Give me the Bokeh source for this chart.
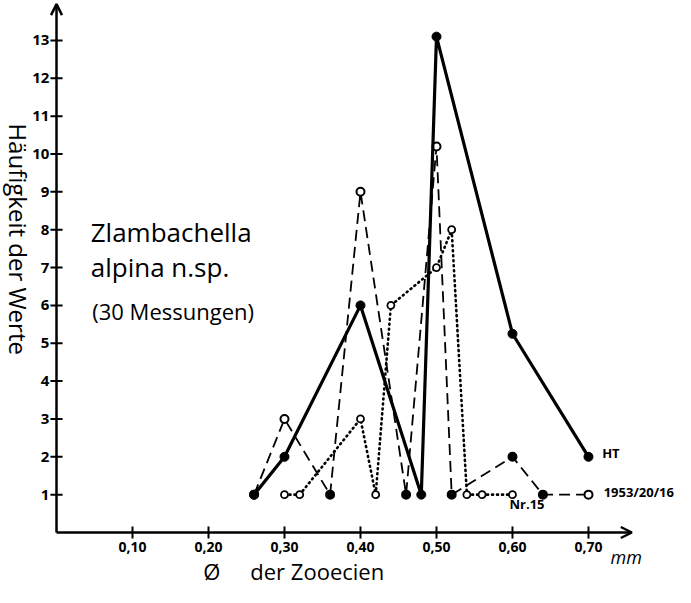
import math
from bokeh.plotting import figure
from bokeh.models import Range1d, Label, Arrow, OpenHead, ColumnDataSource
from bokeh.embed import file_html
from bokeh.resources import INLINE

# ---- data ----
ht_x = [0.26, 0.30, 0.40, 0.48, 0.50, 0.60, 0.70]
ht_y = [1, 2, 6, 1, 13.1, 5.25, 2]

s53_x = [0.26, 0.30, 0.36, 0.40, 0.46, 0.50, 0.52, 0.60, 0.64, 0.70]
s53_y = [1, 3, 1, 9, 1, 10.2, 1, 2, 1, 1]
s53_filled = [True, False, True, False, True, False, True, True, True, False]

nr15_x = [0.30, 0.32, 0.40, 0.42, 0.44, 0.50, 0.52, 0.54, 0.56, 0.60]
nr15_y = [1, 1, 3, 1, 6, 7, 8, 1, 1, 1]

x_ticks = [0.1, 0.2, 0.3, 0.4, 0.5, 0.6, 0.7]
x_tick_labels = ["0,10", "0,20", "0,30", "0,40", "0,50", "0,60", "0,70"]
y_ticks = list(range(1, 14))
y_tick_labels = [str(v) for v in y_ticks]

FONT = "Open Sans"

# frame covers the whole canvas; the chart's own axes are drawn at x=0 / y=0
p = figure(width=675, height=587, x_range=Range1d(-0.0737, 0.8145), y_range=Range1d(-1.453, 14.055),
           output_backend="svg", toolbar_location=None,
           min_border_left=0, min_border_right=0, min_border_top=0, min_border_bottom=0)
p.outline_line_color = None
p.xaxis.visible = False
p.yaxis.visible = False
p.xgrid.visible = False
p.ygrid.visible = False
p.background_fill_color = "white"
p.border_fill_color = "white"

# axes with arrow heads
p.add_layout(Arrow(end=OpenHead(size=11, line_width=2.5, line_color="black"),
                   x_start=0, y_start=0, x_end=0.757, y_end=0,
                   line_width=2.5, line_color="black"))
p.add_layout(Arrow(end=OpenHead(size=11, line_width=2.5, line_color="black"),
                   x_start=0, y_start=0, x_end=0, y_end=13.96,
                   line_width=2.5, line_color="black"))

# crossing tick marks and tick labels
tx_half = 0.16      # ~6 px in y data units
ty_half = 0.008     # ~6 px in x data units
p.segment(x0=x_ticks, y0=[-tx_half] * len(x_ticks), x1=x_ticks, y1=[tx_half] * len(x_ticks),
          line_color="black", line_width=2)
p.segment(x0=[-ty_half] * len(y_ticks), y0=y_ticks, x1=[ty_half] * len(y_ticks), y1=y_ticks,
          line_color="black", line_width=2)
p.text(x=x_ticks, y=[-0.24] * len(x_ticks), text=x_tick_labels, text_font={"value": FONT},
       text_font_size="14px", text_font_style="bold", text_align="center", text_baseline="top",
       text_color="black")
p.text(x=[-0.0095] * len(y_ticks), y=y_ticks, text=y_tick_labels, text_font={"value": FONT},
       text_font_size="15px", text_font_style="bold", text_align="right", text_baseline="middle",
       text_color="black")

# dotted series (Nr. 15)
p.line(nr15_x, nr15_y, line_color="black", line_width=2.6, line_dash="1 4", line_cap="round")
p.scatter(nr15_x, nr15_y, size=7, marker="circle", fill_color="white",
          line_color="black", line_width=1.8)

# dashed series (1953/20/16)
p.line(s53_x, s53_y, line_color="black", line_width=1.8, line_dash="11 6")
src53 = ColumnDataSource(dict(x=s53_x, y=s53_y,
                              fc=["black" if f else "white" for f in s53_filled]))
p.scatter("x", "y", source=src53, size=8, marker="circle", fill_color="fc",
          line_color="black", line_width=2)

# solid series (HT)
p.line(ht_x, ht_y, line_color="black", line_width=3.2)
p.scatter(ht_x, ht_y, size=9, marker="circle", fill_color="black", line_color="black")


def lab(x, y, text, size, style="normal", angle=0, align="left"):
    p.add_layout(Label(x=x, y=y, text=text, text_font=FONT, text_font_size=size,
                       text_font_style=style, text_color="black", angle=angle,
                       text_align=align, text_baseline="middle"))


lab(0.718, 2.11, "HT", "13px", "bold")
lab(0.720, 1.08, "1953/20/16", "13px", "bold")
lab(0.596, 0.74, "Nr.15", "13px", "bold")
lab(0.729, -0.64, "mm", "18px", "italic")
lab(0.045, 7.95, "Zlambachella", "26px")
lab(0.045, 7.02, "alpina n.sp.", "26px")
lab(0.047, 5.85, "(30 Messungen)", "22px")
lab(0.193, -1.03, "Ø", "22px")
lab(0.255, -1.03, "der Zooecien", "22px")
lab(-0.0495, 7.75, "Häufigkeit der Werte", "24px", angle=-math.pi / 2, align="center")

open("out.html", "w").write(file_html(p, INLINE))
